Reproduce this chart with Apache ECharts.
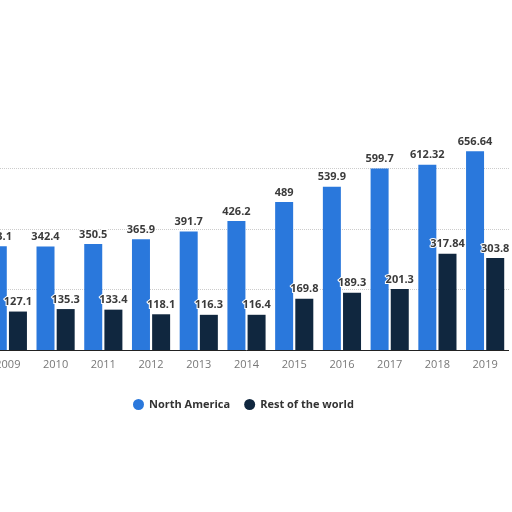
<!DOCTYPE html>
<html>
<head>
<meta charset="utf-8">
<script src="https://cdn.jsdelivr.net/npm/echarts@6/dist/echarts.min.js"></script>
<style>
  html, body { margin: 0; padding: 0; background: #fff; overflow: hidden; }
  /* chart is slightly wider than the page: the 2009 group is cut at the left edge */
  #chart { position: absolute; left: -16px; top: 0; width: 525px; height: 512px; }
</style>
</head>
<body>
<div id="chart"></div>
<script>
// years shown on the x axis
var years = ['2009', '2010', '2011', '2012', '2013', '2014', '2015', '2016', '2017', '2018', '2019'];
// North America
var northAmerica = [343.1, 342.4, 350.5, 365.9, 391.7, 426.2, 489, 539.9, 599.7, 612.32, 656.64];
// Rest of the world
var restOfWorld = [127.1, 135.3, 133.4, 118.1, 116.3, 116.4, 169.8, 189.3, 201.3, 317.84, 303.8];

var chart = echarts.init(document.getElementById('chart'));

// shared label style for the values on top of bars
var barLabel = {
  show: true,
  position: 'top',
  distance: 4,
  color: '#3b3b3b',
  fontSize: 11,
  fontWeight: 'bold',
  fontFamily: 'Open Sans',
  textBorderColor: '#fff',
  textBorderWidth: 2
};

var option = {
  animation: false,
  backgroundColor: '#fff',
  textStyle: { fontFamily: 'Open Sans' },
  legend: {
    data: ['North America', 'Rest of the world'],
    left: 144,
    top: 394,
    icon: 'circle',
    itemWidth: 11,
    itemHeight: 11,
    itemGap: 14,
    textStyle: {
      color: '#333',
      fontSize: 11,
      fontWeight: 'bold'
    }
  },
  grid: {
    left: 0,
    right: 0,
    top: 108,
    bottom: 162,
    containLabel: false
  },
  xAxis: {
    type: 'category',
    data: years,
    axisTick: { show: false },
    axisLine: { lineStyle: { color: '#222', width: 1 } },
    axisLabel: {
      color: '#777',
      fontSize: 11,
      margin: 9
    }
  },
  yAxis: {
    type: 'value',
    min: 0,
    max: 800,
    interval: 200,
    axisLabel: { show: false },
    axisLine: { show: false },
    axisTick: { show: false },
    splitLine: {
      lineStyle: {
        type: 'dotted',
        // no line at the very top
        color: ['#ccc', '#ccc', '#ccc', '#ccc', 'rgba(0,0,0,0)']
      }
    }
  },
  series: [
    {
      name: 'North America',
      type: 'bar',
      data: northAmerica,
      barWidth: 18,
      barGap: '12%',
      itemStyle: { color: '#2a78dc' },
      label: barLabel
    },
    {
      name: 'Rest of the world',
      type: 'bar',
      data: restOfWorld,
      barWidth: 18,
      itemStyle: { color: '#10273f' },
      label: barLabel
    }
  ]
};

chart.setOption(option);
</script>
</body>
</html>
